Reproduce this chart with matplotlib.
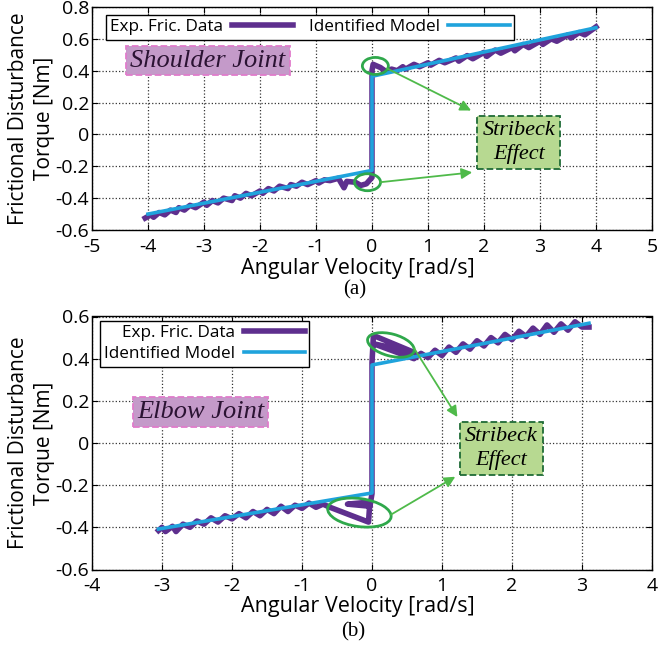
#!/usr/bin/env python

# Friction identification: shoulder (a) and elbow (b) joints

import matplotlib
matplotlib.use('Agg')
import matplotlib.pyplot as plt
import matplotlib.transforms as mtransforms
from matplotlib.patches import Ellipse

# ---- Shoulder joint (a) ----
sh_data_x = [-4.05, -3.95, -3.9, -3.8, -3.7, -3.6, -3.5, -3.45, -3.35, -3.25,
             -3.15, -3.0, -2.95, -2.85, -2.75, -2.65, -2.5, -2.45, -2.35, -2.25,
             -2.15, -2.0, -1.95, -1.85, -1.75, -1.65, -1.5, -1.45, -1.35, -1.25,
             -1.15, -1.0, -0.95, -0.85, -0.75, -0.6, -0.5, -0.45, -0.3, -0.2,
             -0.1, -0.05, 0.0,
             0.0, 0.02, 0.15, 0.25, 0.35, 0.45, 0.55, 0.6, 0.75, 0.85,
             1.0, 1.05, 1.2, 1.3, 1.5, 1.55, 1.7, 1.8, 2.0, 2.05,
             2.2, 2.3, 2.5, 2.55, 2.7, 2.8, 3.0, 3.05, 3.2, 3.3,
             3.5, 3.55, 3.7, 3.8, 4.0]
sh_data_y = [-0.525, -0.505, -0.52, -0.49, -0.505, -0.475, -0.49, -0.46, -0.475, -0.445,
             -0.46, -0.425, -0.445, -0.415, -0.43, -0.40, -0.415, -0.385, -0.40, -0.37,
             -0.385, -0.355, -0.37, -0.34, -0.355, -0.325, -0.34, -0.315, -0.325, -0.30,
             -0.315, -0.29, -0.305, -0.285, -0.29, -0.275, -0.335, -0.295, -0.30, -0.32,
             -0.31, -0.29, -0.27,
             0.40, 0.44, 0.42, 0.395, 0.41, 0.40, 0.425, 0.41, 0.44, 0.425,
             0.45, 0.435, 0.465, 0.45, 0.48, 0.46, 0.495, 0.475, 0.515, 0.49,
             0.53, 0.51, 0.545, 0.525, 0.565, 0.545, 0.585, 0.565, 0.60, 0.585,
             0.625, 0.605, 0.64, 0.625, 0.675]
sh_model_x = [-4.0, 0.0, 0.0, 4.0]
sh_model_y = [-0.50, -0.226, 0.365, 0.67]

sh_xticks = [-5, -4, -3, -2, -1, 0, 1, 2, 3, 4, 5]
sh_xlabels = ['-5', '-4', '-3', '-2', '-1', '0', '1', '2', '3', '4', '5']
sh_yticks = [-0.6, -0.4, -0.2, 0.0, 0.2, 0.4, 0.6, 0.8]
sh_ylabels = ['-0.6', '-0.4', '-0.2', '0', '0.2', '0.4', '0.6', '0.8']

# ---- Elbow joint (b) ----
el_data_x = [-3.05, -3.0, -2.95, -2.85, -2.8, -2.7, -2.6, -2.5, -2.4, -2.3,
             -2.2, -2.1, -2.0, -1.9, -1.8, -1.7, -1.6, -1.5, -1.4, -1.3,
             -1.2, -1.1, -1.0, -0.9, -0.8, -0.7, -0.6, -0.05, -0.03, -0.35,
             -0.03, 0.0,
             0.0, 0.02, 0.6, 0.03, 0.6, 0.7, 0.8, 0.9, 1.0, 1.1,
             1.2, 1.3, 1.4, 1.5, 1.6, 1.7, 1.8, 1.9, 2.0, 2.1,
             2.2, 2.3, 2.4, 2.5, 2.6, 2.7, 2.8, 2.9, 3.0, 3.1]
el_data_y = [-0.415, -0.40, -0.42, -0.395, -0.42, -0.385, -0.40, -0.37, -0.385, -0.355,
             -0.375, -0.345, -0.36, -0.335, -0.355, -0.325, -0.345, -0.315, -0.335, -0.30,
             -0.325, -0.295, -0.31, -0.285, -0.305, -0.29, -0.305, -0.375, -0.28, -0.29,
             -0.30, -0.24,
             0.38, 0.51, 0.43, 0.47, 0.40, 0.425, 0.405, 0.44, 0.415, 0.455,
             0.43, 0.47, 0.445, 0.485, 0.46, 0.50, 0.475, 0.515, 0.49, 0.53,
             0.505, 0.545, 0.515, 0.56, 0.525, 0.565, 0.535, 0.575, 0.55, 0.55]
el_model_x = [-3.05, 0.0, 0.0, 3.1]
el_model_y = [-0.408, -0.237, 0.37, 0.568]

el_xticks = [-4, -3, -2, -1, 0, 1, 2, 3, 4]
el_xlabels = ['-4', '-3', '-2', '-1', '0', '1', '2', '3', '4']
el_yticks = [-0.6, -0.4, -0.2, 0.0, 0.2, 0.4, 0.6]
el_ylabels = ['-0.6', '-0.4', '-0.2', '0', '0.2', '0.4', '0.6']

purple = '#5e2f8e'
cyan = '#1fa3dc'
green_ring = '#2fa84b'
green_arrow = '#4fba4a'

plt.rcParams['font.family'] = ['Open Sans', 'DejaVu Sans']
plt.rcParams['font.size'] = 14

W, H = 659, 649
fig = plt.figure(figsize=(W/100, H/100), dpi=100, facecolor='white')

# right edge pulled in a little so the last tick label stays inside
ax1 = fig.add_axes([92/W, 1-230/H, (652-92)/W, 223/H])
ax2 = fig.add_axes([92/W, 1-569.5/H, (652-92)/W, 253/H])


def style_axes(ax, xt, xl, yt, yl):
    ax.set_xticks(xt)
    ax.set_xticklabels(xl)
    ax.set_yticks(yt)
    ax.set_yticklabels(yl)
    ax.set_xlim(xt[0], xt[-1])
    ax.set_ylim(yt[0], yt[-1])
    ax.grid(True, linestyle=':', color='#333333', linewidth=0.9)
    ax.tick_params(direction='in', top=True, right=True, length=4,
                   labelsize=14)
    ax.tick_params(axis='y', pad=2)
    ax.tick_params(axis='x', pad=5.5)
    for s in ax.spines.values():
        s.set_linewidth(1.0)
    ax.set_xlabel('Angular Velocity [rad/s]', fontsize=15.5)
    ax.set_ylabel('Frictional Disturbance\nTorque [Nm]', fontsize=15,
                  linespacing=1.3)
    ax.yaxis.set_label_coords(-0.066, 0.5)


def ring(ax, x, y, w, h, ang=0):
    tr = fig.dpi_scale_trans + mtransforms.ScaledTranslation(x, y, ax.transData)
    ax.add_patch(Ellipse((0, 0), w/100, h/100, angle=ang, transform=tr,
                         fill=False, edgecolor=green_ring, linewidth=2.0,
                         zorder=5))


def arrow(ax, x0, y0, x1, y1):
    ax.annotate('', xy=(x1, y1), xytext=(x0, y0),
                arrowprops=dict(arrowstyle='-|>', color=green_arrow, lw=1.3,
                                mutation_scale=16, shrinkA=0, shrinkB=0),
                zorder=5)


def label_box(ax, x, y, txt, fc, ec, tc, fs, pad):
    ax.text(x, y, txt, ha='center', va='center', fontsize=fs,
            family='Liberation Serif', style='italic', color=tc,
            linespacing=1.25, zorder=6,
            bbox=dict(boxstyle='square,pad=%s' % pad, facecolor=fc,
                      edgecolor=ec, linestyle='--', linewidth=1.3))


# (a) Shoulder
style_axes(ax1, sh_xticks, sh_xlabels, sh_yticks, sh_ylabels)
ax1.xaxis.set_label_coords(0.475, -0.125)
ax1.plot(sh_data_x, sh_data_y, color=purple, linewidth=4,
         label='Exp. Fric. Data', zorder=3)
ax1.plot(sh_model_x, sh_model_y, color=cyan, linewidth=2.6,
         label='Identified Model', zorder=4)
leg1 = ax1.legend(loc='upper left', bbox_to_anchor=(0.025, 0.964), ncol=2,
                  markerfirst=False, fancybox=False, framealpha=1,
                  edgecolor='black', fontsize=12.3, handlelength=3.6,
                  columnspacing=0.9, handletextpad=0.5, borderpad=0.25,
                  borderaxespad=0)
leg1.get_frame().set_linewidth(1.0)
label_box(ax1, -2.93, 0.464, 'Shoulder Joint', '#c49ac9', '#e07ccb',
          '#2b1333', 19, 0.15)
label_box(ax1, 2.62, -0.05, 'Stribeck\nEffect', '#b7d991', '#1f6b36',
          'black', 16, 0.22)
ring(ax1, 0.06, 0.43, 26, 17)
ring(ax1, -0.08, -0.30, 26, 17)
arrow(ax1, 0.27, 0.414, 1.77, 0.15)
arrow(ax1, 0.147, -0.30, 1.79, -0.238)
fig.text(355/W, 1-290/H, '(a)', ha='center', va='center',
         family='Liberation Serif', fontsize=15)

# (b) Elbow
style_axes(ax2, el_xticks, el_xlabels, el_yticks, el_ylabels)
ax2.xaxis.set_label_coords(0.475, -0.105)
ax2.plot(el_data_x, el_data_y, color=purple, linewidth=4,
         label='Exp. Fric. Data', zorder=3)
ax2.plot(el_model_x, el_model_y, color=cyan, linewidth=2.6,
         label='Identified Model', zorder=4)
leg2 = ax2.legend(loc='upper left', bbox_to_anchor=(0.014, 0.982), ncol=1,
                  markerfirst=False, fancybox=False, framealpha=1,
                  edgecolor='black', fontsize=12.3, handlelength=3.6,
                  handletextpad=0.5, borderpad=0.25, labelspacing=0.3,
                  borderaxespad=0)
leg2.get_frame().set_linewidth(1.0)
label_box(ax2, -2.45, 0.147, 'Elbow Joint', '#c49ac9', '#e07ccb',
          '#2b1333', 19, 0.15)
label_box(ax2, 1.85, -0.026, 'Stribeck\nEffect', '#b7d991', '#1f6b36',
          'black', 16, 0.22)
ring(ax2, 0.27, 0.465, 48, 22, -15)
ring(ax2, -0.18, -0.33, 64, 28, -8)
arrow(ax2, 0.60, 0.45, 1.22, 0.123)
arrow(ax2, 0.27, -0.34, 1.19, -0.16)
fig.text(353/W, 1-632/H, '(b)', ha='center', va='center',
         family='Liberation Serif', fontsize=15)

fig.savefig('out.png', dpi=100)
